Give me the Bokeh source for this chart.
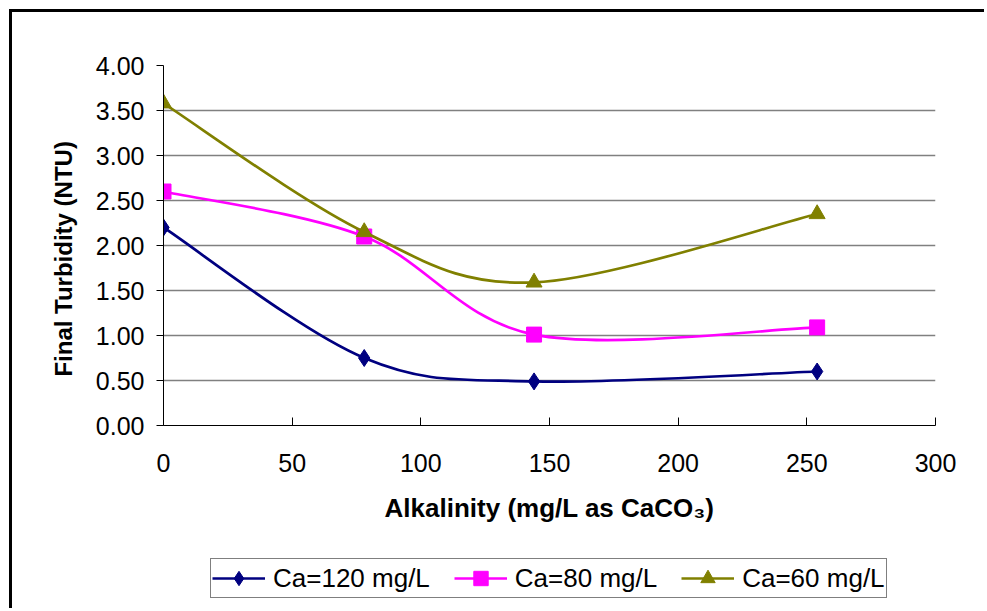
from bokeh.plotting import figure
from bokeh.layouts import column
from bokeh.models import (ColumnDataSource, Range1d, FixedTicker, NumeralTickFormatter,
                          Legend, LegendItem)
from bokeh.embed import file_html
from bokeh.resources import INLINE

# Alkalinity (mg/L as CaCO3) and final turbidity (NTU) for each calcium dose
alkalinity = [0, 78, 144, 254]
turb_ca120 = [2.20, 0.75, 0.49, 0.60]
turb_ca80 = [2.60, 2.10, 1.01, 1.09]
turb_ca60 = [3.58, 2.15, 1.59, 2.35]

series_labels = ["Ca=120 mg/L", "Ca=80 mg/L", "Ca=60 mg/L"]
series_colors = ["#000080", "#FF00FF", "#808000"]
series_markers = ["diamond", "square", "triangle"]
series_sizes = [17, 15, 16]

x_ticks = [0, 50, 100, 150, 200, 250, 300]
y_ticks = [0, 0.5, 1.0, 1.5, 2.0, 2.5, 3.0, 3.5, 4.0]

FONT = "Liberation Sans"


def smooth_segments(xs, ys):
    """Cubic Bezier pieces through the points (cardinal spline, tension 1/6)."""
    n = len(xs)
    px = [xs[0]] + list(xs) + [xs[-1]]
    py = [ys[0]] + list(ys) + [ys[-1]]
    seg = dict(x0=[], y0=[], x1=[], y1=[], cx0=[], cy0=[], cx1=[], cy1=[])
    for i in range(1, n):
        a, b = i, i + 1  # indices in padded arrays
        seg["x0"].append(px[a]); seg["y0"].append(py[a])
        seg["x1"].append(px[b]); seg["y1"].append(py[b])
        seg["cx0"].append(px[a] + (px[b] - px[a - 1]) / 6.0)
        seg["cy0"].append(py[a] + (py[b] - py[a - 1]) / 6.0)
        seg["cx1"].append(px[b] - (px[b + 1] - px[a]) / 6.0)
        seg["cy1"].append(py[b] - (py[b + 1] - py[a]) / 6.0)
    return seg


# ---- main chart -----------------------------------------------------------
p = figure(width=975, height=533, output_backend="svg", toolbar_location=None,
           x_range=Range1d(0, 300), y_range=Range1d(0, 4),
           min_border_left=151, min_border_right=52, min_border_top=53,
           min_border_bottom=120, margin=(9, 0, 0, 9),
           styles={"border-left": "3px solid black", "border-top": "3px solid black"})
p.outline_line_color = None
p.background_fill_color = "white"
p.border_fill_color = "white"

p.xgrid.grid_line_color = None
p.ygrid.grid_line_color = "#808080"
p.ygrid.grid_line_width = 1.5

p.xaxis.ticker = FixedTicker(ticks=x_ticks)
p.xaxis.axis_label = "Alkalinity (mg/L as CaCO\u2083)"
p.xaxis.major_tick_in = 8
p.xaxis.major_tick_out = 0
p.xaxis.minor_tick_line_color = None
p.xaxis.major_label_standoff = 28
p.xaxis.axis_label_standoff = 18
p.xaxis.axis_label_text_font_size = "26px"

p.yaxis.ticker = FixedTicker(ticks=y_ticks)
p.yaxis.formatter = NumeralTickFormatter(format="0.00")
p.yaxis.axis_label = "Final Turbidity (NTU)\u00a0\u00a0\u00a0\u00a0"
p.yaxis.major_tick_in = 0
p.yaxis.major_tick_out = 7
p.yaxis.minor_tick_line_color = None
p.yaxis.major_label_standoff = 12
p.yaxis.axis_label_standoff = 16
p.yaxis.axis_label_text_font_size = "24px"

for ax in (p.xaxis[0], p.yaxis[0]):
    ax.axis_line_color = "black"
    ax.axis_line_width = 1
    ax.major_tick_line_color = "black"
    ax.major_label_text_font = FONT
    ax.major_label_text_font_size = "25px"
    ax.major_label_text_color = "black"
    ax.axis_label_text_font = FONT
    ax.axis_label_text_font_style = "bold"
    ax.axis_label_text_color = "black"

series = [turb_ca120, turb_ca80, turb_ca60]
for ys, color, marker, size in zip(series, series_colors, series_markers, series_sizes):
    seg = ColumnDataSource(smooth_segments(alkalinity, ys))
    p.bezier(x0="x0", y0="y0", x1="x1", y1="y1", cx0="cx0", cy0="cy0",
             cx1="cx1", cy1="cy1", source=seg, line_color=color, line_width=2.7)
    p.scatter(alkalinity, ys, marker=marker, size=size,
              fill_color=color, line_color=color)

# ---- legend strip below the chart ----------------------------------------
# Its frame lines up with the chart frame; the key renderers carry the series
# data but the strip's x range lies to the left of every value, so only the
# legend itself shows.
leg = figure(width=975, height=66, output_backend="svg", toolbar_location=None,
             x_range=Range1d(-2, -1), y_range=Range1d(0, 4),
             x_axis_type=None, y_axis_type=None,
             min_border=0, margin=(0, 0, 0, 9),
             styles={"border-left": "3px solid black"})
leg.outline_line_color = None
leg.grid.grid_line_color = None
leg.background_fill_color = "white"
leg.border_fill_color = "white"

items = []
for label, ys, color, marker in zip(series_labels, series, series_colors, series_markers):
    key_line = leg.line(alkalinity, ys, line_color=color, line_width=2.7)
    key_mark = leg.scatter(alkalinity, ys, marker=marker, fill_color=color, line_color=color)
    items.append(LegendItem(label=label, renderers=[key_line, key_mark]))

legend = Legend(items=items, orientation="horizontal", location=(47, 10),
                label_text_font=FONT, label_text_font_size="26px",
                label_text_color="black", glyph_width=53, glyph_height=36,
                label_standoff=8, spacing=24, padding=1, margin=0,
                border_line_color="black", border_line_width=1,
                background_fill_color="white", background_fill_alpha=1)
leg.add_layout(legend, "center")

layout = column(p, leg, spacing=0)
open("out.html", "w").write(file_html(layout, INLINE))
